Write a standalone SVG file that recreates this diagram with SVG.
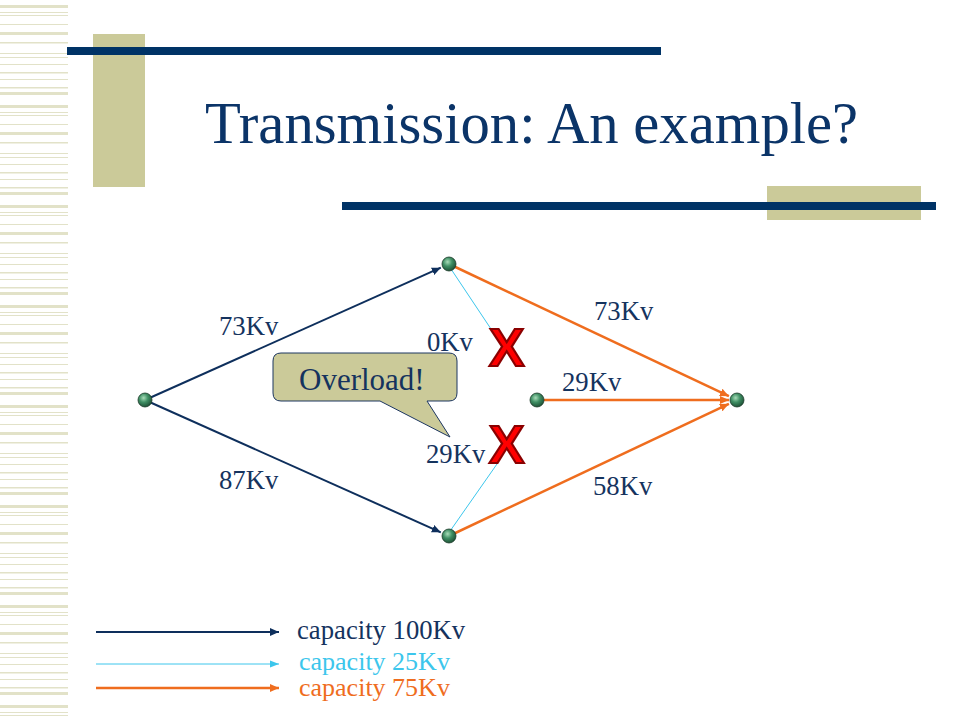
<svg xmlns="http://www.w3.org/2000/svg" width="960" height="720" viewBox="0 0 960 720">
<defs>
<style>
.lbl{font-family:"Liberation Serif","Times New Roman",serif;font-size:26.7px;fill:#15335e}
.title{font-family:"Liberation Serif","Times New Roman",serif;font-size:58.7px;fill:#0b3468}
.xm{font-family:"Liberation Sans",Arial,sans-serif;font-weight:bold;font-size:53px;fill:#ff0000;stroke:#8a0000;stroke-width:2.2;stroke-linejoin:miter}
.navy{stroke:#0e2f5c;stroke-width:2;fill:none}
.orange{stroke:#ef6d1e;stroke-width:2.5;fill:none}
.cyan{stroke:#3cc6ec;stroke-width:1;fill:none}
.node{fill:url(#ball);stroke:#1c3a2a;stroke-width:0.8}
</style>
<radialGradient id="ball" cx="0.4" cy="0.35" r="0.7">
<stop offset="0" stop-color="#a8dcb8"/>
<stop offset="0.45" stop-color="#3f8f64"/>
<stop offset="1" stop-color="#1a4a30"/>
</radialGradient>
<marker id="aNavy" markerUnits="userSpaceOnUse" markerWidth="10" markerHeight="8" refX="9" refY="4" orient="auto"><path d="M0,0 L9,4 L0,8 Z" fill="#0e2f5c"/></marker>
<marker id="aOrange" markerUnits="userSpaceOnUse" markerWidth="10" markerHeight="8" refX="9" refY="4" orient="auto"><path d="M0,0 L9,4 L0,8 Z" fill="#ef6d1e"/></marker>
<marker id="aCyan" markerUnits="userSpaceOnUse" markerWidth="10" markerHeight="8" refX="9" refY="4" orient="auto"><path d="M0,0.5 L9,4 L0,7.5 Z" fill="#3cc6ec"/></marker>
<pattern id="stripes" patternUnits="userSpaceOnUse" x="0" y="0" width="68" height="100">
<g fill="#e2e2c8">
<rect x="0" y="5" width="68" height="3"/>
<rect x="0" y="12" width="68" height="1"/>
<rect x="0" y="15" width="68" height="1"/>
<rect x="0" y="24" width="68" height="1"/>
<rect x="0" y="32" width="68" height="3"/>
<rect x="0" y="42" width="68" height="1.5"/>
<rect x="0" y="53" width="68" height="1"/>
<rect x="0" y="57" width="68" height="1"/>
<rect x="0" y="64" width="68" height="1"/>
<rect x="0" y="72" width="68" height="1.5"/>
<rect x="0" y="79" width="68" height="1"/>
<rect x="0" y="87" width="68" height="1.5"/>
<rect x="0" y="92" width="68" height="3"/>
</g>
</pattern>
</defs>
<rect width="960" height="720" fill="#ffffff"/>
<g id="decor">
<rect x="0" y="0" width="68" height="720" fill="url(#stripes)"/>
<rect x="93" y="34" width="52" height="153" fill="#cbca99"/>
<rect x="67" y="47" width="594" height="8" fill="#003366"/>
<rect x="767" y="186" width="154" height="34" fill="#cbca99"/>
<rect x="342" y="202" width="594" height="8" fill="#003366"/>
</g>
<text class="title" x="205" y="143">Transmission: An example?</text>
<g id="connectors">
<line class="navy" x1="145" y1="400" x2="440.8" y2="267.7" marker-end="url(#aNavy)"/>
<line class="navy" x1="145" y1="400" x2="440.8" y2="532.3" marker-end="url(#aNavy)"/>
<line class="cyan" x1="449" y1="266" x2="491" y2="329"/>
<line class="cyan" x1="448" y1="534" x2="497" y2="464"/>
<line class="orange" x1="449" y1="264" x2="728.9" y2="396.2" marker-end="url(#aOrange)"/>
<line class="orange" x1="544" y1="400" x2="729" y2="400" marker-end="url(#aOrange)"/>
<line class="orange" x1="449" y1="536" x2="728.9" y2="403.8" marker-end="url(#aOrange)"/>
</g>
<g id="node-s"><circle class="node" cx="145" cy="400" r="7"/></g>
<g id="node-top"><circle class="node" cx="449" cy="264" r="7"/></g>
<g id="node-bottom"><circle class="node" cx="449" cy="536" r="7"/></g>
<g id="node-mid"><circle class="node" cx="537" cy="400" r="7"/></g>
<g id="node-t"><circle class="node" cx="737" cy="400" r="7"/></g>
<g id="labels">
<text class="lbl" x="219" y="335">73Kv</text>
<text class="lbl" x="219" y="489">87Kv</text>
<text class="lbl" x="427" y="351">0Kv</text>
<text class="lbl" x="426" y="463">29Kv</text>
<text class="lbl" x="594" y="320">73Kv</text>
<text class="lbl" x="562" y="391">29Kv</text>
<text class="lbl" x="593" y="495">58Kv</text>
</g>
<g id="marks">
<text class="xm" x="489" y="366">X</text>
<text class="xm" x="489" y="463">X</text>
</g>
<g id="callout">
<path d="M281,353 H449 Q457,353 457,361 V393 Q457,401 449,401 H427 L450,437 L380,401 H281 Q273,401 273,393 V361 Q273,353 281,353 Z" fill="#cbca99" stroke="#1c3660" stroke-width="1"/>
<text class="lbl" x="299" y="390" style="font-size:31px">Overload!</text>
</g>
<g id="legend">
<line class="navy" x1="96" y1="632" x2="279" y2="632" marker-end="url(#aNavy)"/>
<line class="cyan" x1="96" y1="664" x2="279" y2="664" marker-end="url(#aCyan)"/>
<line class="orange" x1="96" y1="688" x2="279" y2="688" marker-end="url(#aOrange)"/>
<text class="lbl" x="297" y="639">capacity 100Kv</text>
<text class="lbl" x="299" y="670" style="fill:#3cc6ec;font-size:26px">capacity 25Kv</text>
<text class="lbl" x="299" y="696" style="fill:#ef6d1e;font-size:26px">capacity 75Kv</text>
</g>
</svg>
